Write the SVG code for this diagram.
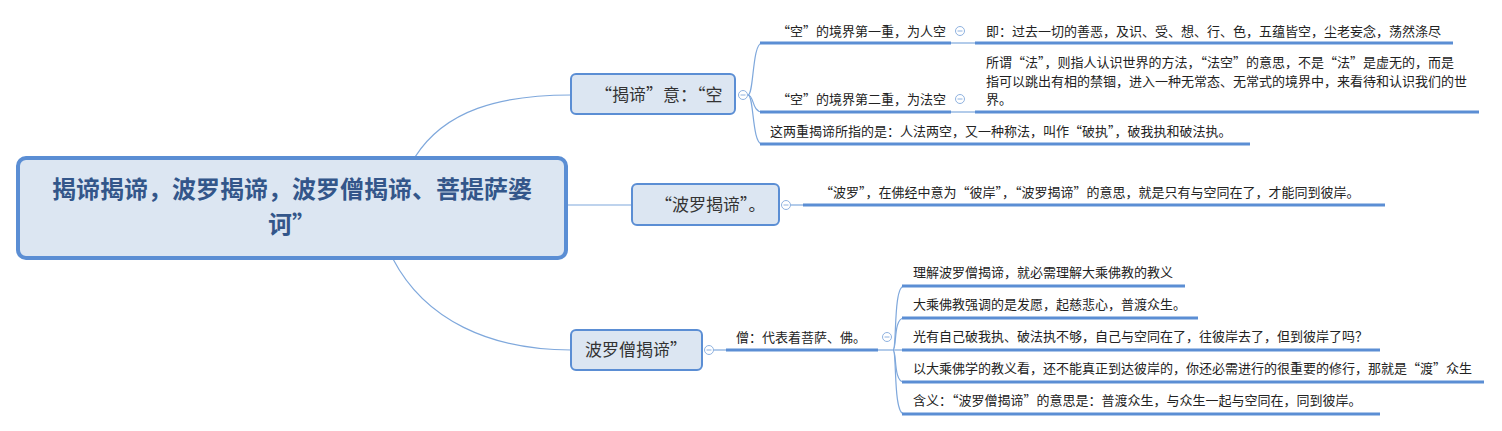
<svg xmlns="http://www.w3.org/2000/svg" width="1502" height="431" viewBox="0 0 1502 431">
<style>
text{font-family:"Noto Sans CJK SC","Noto Sans",sans-serif;}
.t{font-size:13px;fill:#222;}
.n{font-size:17px;fill:#333;}
.r{font-size:24px;font-weight:bold;fill:#33568a;}
.box{fill:#dce6f2;stroke:#5b8ed4;stroke-width:2;}
.thin{fill:none;stroke:#7fa8dc;stroke-width:1.2;}
.ul{fill:none;stroke:#5b8ed4;stroke-width:3;}
.cc{fill:#fff;stroke:#8fb2e0;stroke-width:1;}
.cm{stroke:#8fb2e0;stroke-width:1;}
</style>
<rect width="1502" height="431" fill="#fff"/>
<g id="connectors">
<path class="thin" d="M415,157 C445,110 500,95 571,95"/>
<path class="thin" d="M567,205 L631,205"/>
<path class="thin" d="M393,259 C425,320 490,350 571,350"/>
<path class="thin" d="M748,95 C754,95 752,43 762,43"/>
<path class="thin" d="M748,95 C754,95 752,112 762,112"/>
<path class="thin" d="M748,95 C754,95 752,144 762,144"/>
<path class="ul" d="M760,43 H951"/>
<path class="thin" d="M951,43 H976"/>
<path class="ul" d="M975,43 H1453"/>
<path class="ul" d="M760,112 H951"/>
<path class="thin" d="M951,112 H976"/>
<path class="ul" d="M975,112 H1479"/>
<path class="ul" d="M760,144 H1250"/>
<path class="thin" d="M790,205 H804"/>
<path class="ul" d="M803,205 H1385"/>
<path class="thin" d="M713,350 H727"/>
<path class="ul" d="M726,350 H878"/>
<path class="thin" d="M878,350 H893"/>
<path class="thin" d="M893,350 C897,350 893,286 904,286"/>
<path class="thin" d="M893,350 C897,350 893,318 904,318"/>
<path class="thin" d="M893,350 H904"/>
<path class="thin" d="M893,350 C897,350 893,382 904,382"/>
<path class="thin" d="M893,350 C897,350 893,414 904,414"/>
<path class="ul" d="M902,286 H1185"/>
<path class="ul" d="M902,318 H1198"/>
<path class="ul" d="M902,350 H1380"/>
<path class="ul" d="M902,382 H1484"/>
<path class="ul" d="M902,414 H1380"/>
</g>
<g id="root">
<rect x="18" y="158" width="548" height="100" rx="8" fill="#dce6f2" stroke="#5b8ed4" stroke-width="4"/>
<text class="r" x="292" y="198" text-anchor="middle">揭谛揭谛，波罗揭谛，波罗僧揭谛、菩提萨婆</text>
<text class="r" x="292" y="233" text-anchor="middle">诃”</text>
</g>
<g id="n1">
<rect class="box" x="571" y="74" width="164" height="40" rx="5"/>
<text class="n" x="595" y="101">“揭谛”意：“空</text>
<circle class="cc" cx="743" cy="95" r="4.5"/><path class="cm" d="M740.5,95 H745.5"/>
</g>
<g id="n1c1">
<text class="t" x="777" y="36">“空”的境界第一重，为人空</text>
<circle class="cc" cx="960" cy="31" r="4.5"/><path class="cm" d="M957.5,31 H962.5"/>
</g>
<g id="n1c1d">
<text class="t" x="986" y="36">即：过去一切的善恶，及识、受、想、行、色，五蕴皆空，尘老妄念，荡然涤尽</text>
</g>
<g id="n1c2">
<text class="t" x="777" y="104">“空”的境界第二重，为法空</text>
<circle class="cc" cx="960" cy="99" r="4.5"/><path class="cm" d="M957.5,99 H962.5"/>
</g>
<g id="n1c2d">
<text class="t" x="986" y="67">所谓“法”，则指人认识世界的方法，“法空”的意思，不是“法”是虚无的，而是</text>
<text class="t" x="986" y="86">指可以跳出有相的禁锢，进入一种无常态、无常式的境界中，来看待和认识我们的世</text>
<text class="t" x="986" y="104">界。</text>
</g>
<g id="n1c3">
<text class="t" x="770" y="136">这两重揭谛所指的是：人法两空，又一种称法，叫作“破执”，破我执和破法执。</text>
</g>
<g id="n2">
<rect class="box" x="632" y="184" width="147" height="41" rx="5"/>
<text class="n" x="655" y="211">“波罗揭谛”。</text>
<circle class="cc" cx="786" cy="205" r="4.5"/><path class="cm" d="M783.5,205 H788.5"/>
</g>
<g id="n2c1">
<text class="t" x="820" y="197">“波罗”，在佛经中意为“彼岸”，“波罗揭谛”的意思，就是只有与空同在了，才能同到彼岸。</text>
</g>
<g id="n3">
<rect class="box" x="571" y="330" width="131" height="40" rx="5"/>
<text class="n" x="585" y="356">波罗僧揭谛”</text>
<circle class="cc" cx="709" cy="350" r="4.5"/><path class="cm" d="M706.5,350 H711.5"/>
</g>
<g id="n3c1">
<text class="t" x="736" y="342">僧：代表着菩萨、佛。</text>
<circle class="cc" cx="887" cy="337" r="4.5"/><path class="cm" d="M884.5,337 H889.5"/>
</g>
<g id="n3c1a"><text class="t" x="913" y="277">理解波罗僧揭谛，就必需理解大乘佛教的教义</text></g>
<g id="n3c1b"><text class="t" x="913" y="309">大乘佛教强调的是发愿，起慈悲心，普渡众生。</text></g>
<g id="n3c1c"><text class="t" x="913" y="341">光有自己破我执、破法执不够，自己与空同在了，往彼岸去了，但到彼岸了吗？</text></g>
<g id="n3c1d"><text class="t" x="913" y="373">以大乘佛学的教义看，还不能真正到达彼岸的，你还必需进行的很重要的修行，那就是“渡”众生</text></g>
<g id="n3c1e"><text class="t" x="913" y="405">含义：“波罗僧揭谛”的意思是：普渡众生，与众生一起与空同在，同到彼岸。</text></g>
</svg>
